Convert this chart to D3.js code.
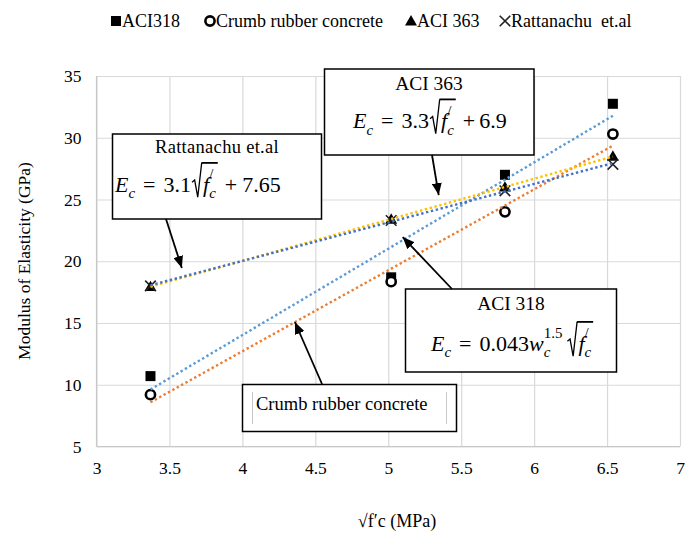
<!DOCTYPE html>
<html>
<head>
<meta charset="utf-8">
<script src="https://cdn.jsdelivr.net/npm/d3@7"></script>
<style>
  body { margin: 0; background: #fff; }
  text { font-family: "Liberation Serif", "Times New Roman", serif; fill: #000; }
</style>
</head>
<body>
<script>
// data
const xVals = [3.37, 5.02, 5.80, 6.54];
const aci318 = [10.7, 18.7, 27.0, 32.75];
const crumb = [9.2, 18.35, 24.0, 30.3];
const aci363 = [17.95, 23.4, 26.0, 28.5];
const ratt = [18.0, 23.3, 25.7, 27.85];
const seriesNames = ["ACI318", "Crumb rubber concrete", "ACI 363", "Rattanachu  et.al"];
const xTicks = [3, 3.5, 4, 4.5, 5, 5.5, 6, 6.5, 7];
const yTicks = [5, 10, 15, 20, 25, 30, 35];

const w = 693, h = 536;
const x = d3.scaleLinear().domain([3, 7]).range([96.5, 680]);
const y = d3.scaleLinear().domain([5, 35]).range([446.5, 76]);

const svg = d3.select("body").append("svg").attr("width", w).attr("height", h);

// grid
svg.append("g").attr("transform", `translate(0,${y(5)})`)
  .call(d3.axisBottom(x).tickValues(xTicks).tickSize(-(y(5) - y(35))).tickFormat(""))
  .call(g => g.select(".domain").remove())
  .selectAll("line").attr("stroke", "#d9d9d9").attr("stroke-width", 1.2);
svg.append("g").attr("transform", `translate(${x(3)},0)`)
  .call(d3.axisLeft(y).tickValues(yTicks).tickSize(-(x(7) - x(3))).tickFormat(""))
  .call(g => g.select(".domain").remove())
  .selectAll("line").attr("stroke", "#d9d9d9").attr("stroke-width", 1.2);
svg.append("line").attr("x1", x(3)).attr("x2", x(3)).attr("y1", y(5)).attr("y2", y(35)).attr("stroke", "#c8c8c8").attr("stroke-width", 1.2);
svg.append("line").attr("x1", x(3)).attr("x2", x(7)).attr("y1", y(5)).attr("y2", y(5)).attr("stroke", "#c8c8c8").attr("stroke-width", 1.2);

// tick labels
const xAx = svg.append("g").attr("transform", `translate(0,${y(5)})`)
  .call(d3.axisBottom(x).tickValues(xTicks).tickSize(0).tickPadding(15).tickFormat(d3.format("")));
xAx.select(".domain").remove();
xAx.selectAll("text").style("font-family", "Liberation Serif").style("font-size", "17.5px").attr("fill", "#000");
const yAx = svg.append("g").attr("transform", `translate(${x(3)},0)`)
  .call(d3.axisLeft(y).tickValues(yTicks).tickSize(0).tickPadding(15));
yAx.select(".domain").remove();
yAx.selectAll("text").style("font-family", "Liberation Serif").style("font-size", "17.5px").attr("fill", "#000");

// axis titles
svg.append("text").attr("transform", "translate(30,261) rotate(-90)").attr("text-anchor", "middle")
  .style("font-size", "17.5px").text("Modulus of Elasticity  (GPa)");
svg.append("text").attr("x", 397).attr("y", 527).attr("text-anchor", "middle")
  .style("font-size", "18px").text("\u221Af\u2032c (MPa)");

// markers
const sym = {
  square: d3.symbol().type(d3.symbolSquare).size(100),
  triangle: d3.symbol().type(d3.symbolTriangle).size(62),
  cross: d3.symbol().type(d3.symbolTimes).size(75)
};
function drawMarker(g, kind, cx, cy) {
  if (kind === "circle") {
    g.append("circle").attr("cx", cx).attr("cy", cy).attr("r", 4.6)
      .attr("fill", "#fff").attr("stroke", "#000").attr("stroke-width", 2.6);
  } else if (kind === "cross") {
    g.append("path").attr("d", sym.cross()).attr("transform", `translate(${cx},${cy})`)
      .attr("fill", "none").attr("stroke", "#222").attr("stroke-width", 1.6);
  } else {
    g.append("path").attr("d", sym[kind]()).attr("transform", `translate(${cx},${cy + (kind === "triangle" ? 1 : 0)})`)
      .attr("fill", "#000");
  }
}

const series = [
  { vals: aci318, marker: "square", trend: "#5B9BD5" },
  { vals: crumb, marker: "circle", trend: "#ED7D31" },
  { vals: aci363, marker: "triangle", trend: "#FFC000" },
  { vals: ratt, marker: "cross", trend: "#4472C4" }
];

const markG = svg.append("g");
series.forEach(s => {
  s.vals.forEach((v, i) => drawMarker(markG, s.marker, x(xVals[i]), y(v)));
});

// linear trendlines (least squares)
function fit(xs, ys) {
  const mx = d3.mean(xs), my = d3.mean(ys);
  let sxy = 0, sxx = 0;
  xs.forEach((xi, i) => { sxy += (xi - mx) * (ys[i] - my); sxx += (xi - mx) * (xi - mx); });
  const b = sxy / sxx;
  return t => my + b * (t - mx);
}
const trendG = svg.append("g");
series.forEach(s => {
  const f = fit(xVals, s.vals);
  const x0 = xVals[0], x1 = xVals[xVals.length - 1];
  trendG.append("line")
    .attr("x1", x(x0)).attr("y1", y(f(x0)))
    .attr("x2", x(x1)).attr("y2", y(f(x1)))
    .attr("stroke", s.trend).attr("stroke-width", 2.4)
    .attr("stroke-dasharray", "2.4,2.6");
});

// legend
const legendX = [111, 205, 406, 500];
seriesNames.forEach((name, i) => {
  const lx = legendX[i];
  drawMarker(svg, series[i].marker, lx + 5, 21);
  svg.append("text").attr("x", lx + 11).attr("y", 27).style("font-size", "18px")
    .attr("xml:space", "preserve").text(name);
});

// annotations
const defs = svg.append("defs");
defs.append("marker").attr("id", "arr").attr("viewBox", "0 0 12 10")
  .attr("refX", 12).attr("refY", 5).attr("markerWidth", 12).attr("markerHeight", 10)
  .attr("markerUnits", "userSpaceOnUse").attr("orient", "auto")
  .append("path").attr("d", "M0,0 L12,5 L0,10 z").attr("fill", "#000");

function box(x0, y0, bw, bh) {
  svg.append("rect").attr("x", x0).attr("y", y0).attr("width", bw).attr("height", bh)
    .attr("fill", "#fff").attr("stroke", "#000").attr("stroke-width", 1.5);
}
function arrow(sx, sy, tx, ty) {
  svg.append("line").attr("x1", sx).attr("y1", sy).attr("x2", x(tx)).attr("y2", y(ty))
    .attr("stroke", "#000").attr("stroke-width", 1.8).attr("marker-end", "url(#arr)");
}

// formula writer: parts are {t, it, sub, sup, stack, gap} or {sqrt: [...]}
function formula(x0, base, parts, fs) {
  const g = svg.append("g");
  let cx = x0;
  function run(list) {
    let prevStart = cx, prevEnd = cx;
    list.forEach(p => {
      if (p.sqrt) {
        const sx = cx;
        cx += fs * 0.5;
        run(p.sqrt);
        g.append("path")
          .attr("d", `M${sx},${base - fs * 0.42} L${sx + fs * 0.12},${base - fs * 0.52} L${sx + fs * 0.26},${base + fs * 0.26} L${sx + fs * 0.44},${base - fs * 1.3}`)
          .attr("fill", "none").attr("stroke", "#000").attr("stroke-width", 1.3);
        g.append("line").attr("x1", sx + fs * 0.43).attr("x2", cx + 2)
          .attr("y1", base - fs * 1.3).attr("y2", base - fs * 1.3)
          .attr("stroke", "#000").attr("stroke-width", 1.8);
        cx += 2;
        return;
      }
      if (p.gap) { cx += p.gap; prevStart = prevEnd = cx; return; }
      const size = (p.sub || p.sup) ? fs * 0.68 : fs;
      const dy = p.sub ? fs * 0.3 : p.sup ? -fs * 0.55 : 0;
      const start = p.stack ? prevStart : cx;
      const t = g.append("text").attr("x", start).attr("y", base + dy)
        .attr("xml:space", "preserve")
        .style("font-size", size + "px").style("font-style", p.it ? "italic" : "normal")
        .text(p.t);
      const tw = t.node().getComputedTextLength();
      const end = start + tw;
      cx = p.stack ? Math.max(prevEnd, end) : end;
      prevStart = start; prevEnd = cx;
    });
  }
  run(parts);
}
const fc = [{ t: "f", it: true }, { t: "c", it: true, sub: true }, { t: "/", sup: true, stack: true }];

// Rattanachu
box(112.5, 134, 209, 85);
svg.append("text").attr("x", 217).attr("y", 153).attr("text-anchor", "middle")
  .style("font-size", "18.5px").style("letter-spacing", "0.3px").text("Rattanachu et.al");
formula(115, 191.5, [{ t: "E", it: true }, { t: "c", it: true, sub: true }, { gap: 8 }, { t: "=" }, { gap: 8 }, { t: "3.1" },
  { gap: 1 }, { sqrt: fc }, { gap: 7 }, { t: "+" }, { gap: 5 }, { t: "7.65" }], 22);
arrow(166, 219, 3.585, 19.45);

// ACI 363
box(324.5, 69, 209.5, 86);
svg.append("text").attr("x", 429).attr("y", 90).attr("text-anchor", "middle")
  .style("font-size", "19.5px").text("ACI 363");
formula(353, 128, [{ t: "E", it: true }, { t: "c", it: true, sub: true }, { gap: 8 }, { t: "=" }, { gap: 8 }, { t: "3.3" },
  { gap: 1 }, { sqrt: fc }, { gap: 7 }, { t: "+" }, { gap: 4 }, { t: "6.9" }], 22);
arrow(432, 155, 5.346, 25.36);

// ACI 318
box(405.5, 289, 211, 83);
svg.append("text").attr("x", 511).attr("y", 310).attr("text-anchor", "middle")
  .style("font-size", "19.5px").text("ACI 318");
formula(431, 350.5, [{ t: "E", it: true }, { t: "c", it: true, sub: true }, { gap: 8 }, { t: "=" }, { gap: 8 }, { t: "0.043" },
  { t: "w", it: true }, { t: "c", it: true, sub: true }, { t: "1.5", sup: true, stack: true }, { gap: 5 }, { sqrt: fc }], 22);
arrow(452, 289, 5.099, 21.96);

// Crumb rubber concrete
box(242.5, 384.5, 214, 47);
svg.append("line").attr("x1", 252.5).attr("x2", 252.5).attr("y1", 392).attr("y2", 424).attr("stroke", "#c8c8c8");
svg.append("line").attr("x1", 446.5).attr("x2", 446.5).attr("y1", 392).attr("y2", 424).attr("stroke", "#c8c8c8");
svg.append("text").attr("x", 256).attr("y", 410).style("font-size", "18.5px").text("Crumb rubber concrete");
arrow(322, 384, 4.36, 15.08);
</script>
</body>
</html>
